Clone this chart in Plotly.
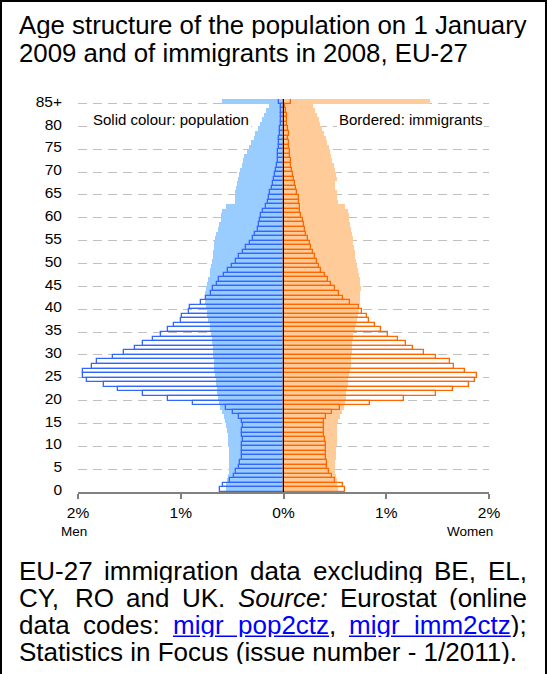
import plotly.graph_objects as go

# ---------------- data (percent of total, by single year of age; last = 85+) ----------------
ages = list(range(86))
tick_ages = list(range(0, 90, 5))
tick_labels = [str(a) for a in range(0, 85, 5)] + ["85+"]
x_tick_vals = [-2, -1, 0, 1, 2]
x_tick_text = ["2%", "1%", "0%", "1%", "2%"]

pop_men = [0.56, 0.555, 0.55, 0.545, 0.535, 0.53, 0.53, 0.53, 0.53, 0.535,
           0.54, 0.54, 0.545, 0.55, 0.56, 0.565, 0.58, 0.60, 0.615, 0.625,
           0.636, 0.643, 0.65, 0.656, 0.66, 0.665, 0.672, 0.675, 0.68, 0.688,
           0.69, 0.69, 0.695, 0.698, 0.708, 0.714, 0.72, 0.73, 0.74, 0.747,
           0.753, 0.763, 0.763, 0.763, 0.753, 0.74, 0.73, 0.72, 0.714, 0.708,
           0.70, 0.688, 0.682, 0.675, 0.672, 0.666, 0.656, 0.633, 0.623, 0.61,
           0.607, 0.60, 0.558, 0.47, 0.47, 0.47, 0.464, 0.455, 0.445, 0.438,
           0.422, 0.406, 0.39, 0.38, 0.357, 0.334, 0.315, 0.292, 0.276, 0.25,
           0.227, 0.211, 0.188, 0.169, 0.146, 0.60]

pop_women = [0.53, 0.525, 0.52, 0.51, 0.505, 0.50, 0.505, 0.51, 0.51, 0.515,
             0.518, 0.52, 0.52, 0.522, 0.524, 0.53, 0.547, 0.57, 0.586, 0.60,
             0.605, 0.612, 0.62, 0.628, 0.632, 0.638, 0.648, 0.655, 0.66, 0.66,
             0.662, 0.667, 0.67, 0.677, 0.68, 0.70, 0.706, 0.715, 0.726, 0.73,
             0.735, 0.742, 0.745, 0.748, 0.75, 0.745, 0.74, 0.73, 0.725, 0.72,
             0.71, 0.70, 0.695, 0.685, 0.68, 0.675, 0.665, 0.655, 0.645, 0.64,
             0.635, 0.625, 0.60, 0.53, 0.525, 0.52, 0.50, 0.505, 0.52, 0.515,
             0.50, 0.49, 0.475, 0.465, 0.455, 0.44, 0.425, 0.41, 0.395, 0.375,
             0.36, 0.345, 0.33, 0.31, 0.29, 1.43]

imm_men = [0.616, 0.584, 0.525, 0.486, 0.46, 0.438, 0.42, 0.405, 0.40, 0.40,
           0.40, 0.395, 0.40, 0.40, 0.39, 0.406, 0.429, 0.487, 0.558, 0.877,
           1.127, 1.368, 1.615, 1.748, 1.913, 1.955, 1.955, 1.864, 1.818, 1.656,
           1.55, 1.45, 1.37, 1.274, 1.195, 1.127, 1.068, 1.0, 0.987, 0.919,
           0.909, 0.805, 0.753, 0.708, 0.682, 0.643, 0.63, 0.575, 0.545, 0.503,
           0.461, 0.429, 0.39, 0.367, 0.325, 0.299, 0.276, 0.253, 0.24, 0.227,
           0.218, 0.201, 0.169, 0.153, 0.146, 0.13, 0.114, 0.104, 0.091, 0.081,
           0.071, 0.065, 0.058, 0.052, 0.049, 0.042, 0.042, 0.039, 0.036, 0.032,
           0.029, 0.029, 0.026, 0.023, 0.02, 0.04]

imm_women = [0.597, 0.58, 0.505, 0.47, 0.444, 0.42, 0.424, 0.41, 0.417, 0.41,
             0.41, 0.407, 0.395, 0.39, 0.39, 0.395, 0.41, 0.47, 0.547, 0.84,
             1.17, 1.482, 1.65, 1.807, 1.862, 1.885, 1.765, 1.657, 1.618, 1.482,
             1.368, 1.265, 1.196, 1.115, 1.018, 0.953, 0.894, 0.833, 0.813, 0.768,
             0.735, 0.651, 0.58, 0.54, 0.505, 0.466, 0.433, 0.40, 0.368, 0.35,
             0.33, 0.31, 0.29, 0.27, 0.255, 0.24, 0.222, 0.21, 0.2, 0.185,
             0.174, 0.165, 0.157, 0.15, 0.148, 0.135, 0.125, 0.115, 0.102, 0.092,
             0.083, 0.077, 0.07, 0.065, 0.06, 0.055, 0.05, 0.045, 0.05, 0.04,
             0.037, 0.03, 0.03, 0.024, 0.018, 0.07]

title_lines = ["Age structure of the population on 1 January",
               "2009 and of immigrants in 2008, EU-27"]

# ---------------- layout helpers ----------------
W, H = 547, 674
ML, MR, MT, MB = 78, 58, 99, 182
PW, PH = W - ML - MR, H - MT - MB
FONT = "Liberation Sans, Arial, sans-serif"


def px(x):
    return (x - ML) / PW


def py(y):
    return (H - MB - y) / PH


AW = {' ': 278, '!': 278, '(': 333, ')': 333, ',': 278, '-': 333, '.': 278, '/': 278,
      ':': 278, ';': 278, '_': 556, '+': 584, '%': 889,
      'A': 667, 'B': 667, 'C': 722, 'D': 722, 'E': 667, 'F': 611, 'G': 778, 'H': 722,
      'I': 278, 'J': 500, 'K': 667, 'L': 556, 'M': 833, 'N': 722, 'O': 778, 'P': 667,
      'Q': 778, 'R': 722, 'S': 667, 'T': 611, 'U': 722, 'V': 667, 'W': 944, 'X': 667,
      'Y': 667, 'Z': 611,
      'a': 556, 'b': 556, 'c': 500, 'd': 556, 'e': 556, 'f': 278, 'g': 556, 'h': 556,
      'i': 222, 'j': 222, 'k': 500, 'l': 222, 'm': 833, 'n': 556, 'o': 556, 'p': 556,
      'q': 556, 'r': 333, 's': 500, 't': 278, 'u': 556, 'v': 500, 'w': 722, 'x': 500,
      'y': 500, 'z': 500}


def tw(s, size):
    return sum(AW.get(c, 556) for c in s) / 1000.0 * size


fig = go.Figure()
fig.add_trace(go.Bar(y=ages, x=[-v for v in pop_men], orientation="h", width=1,
                     marker=dict(color="#99CCFF", line=dict(width=0)), name="Men population"))
fig.add_trace(go.Bar(y=ages, x=pop_women, orientation="h", width=1,
                     marker=dict(color="#FFCC99", line=dict(width=0)), name="Women population"))
fig.add_trace(go.Bar(y=ages, x=[-v for v in imm_men], orientation="h", width=1,
                     marker=dict(color="rgba(0,0,0,0)", line=dict(color="#3366FF", width=1.3)),
                     name="Men immigrants"))
fig.add_trace(go.Bar(y=ages, x=imm_women, orientation="h", width=1,
                     marker=dict(color="rgba(0,0,0,0)", line=dict(color="#FF6600", width=1.3)),
                     name="Women immigrants"))

annotations = []
TSIZE = 25.8
for i, line in enumerate(title_lines):
    annotations.append(dict(text=line, x=px(19), y=py(24.5 + 28.4 * i), xref="paper", yref="paper",
                            xanchor="left", yanchor="middle", showarrow=False, borderpad=0, borderwidth=0,
                            height=27, valign="middle",
                            font=dict(family=FONT, size=TSIZE, color="black")))

# footer, justified lines
FS = 26
LH = 26.9
LINK = '<span style="color:#0000FF"><u>{}</u></span>'
footer = [
    [("EU-27", "EU-27"), ("immigration", "immigration"), ("data", "data"), ("excluding", "excluding"),
     ("BE,", "BE,"), ("EL,", "EL,")],
    [("CY,", "CY,"), ("RO", "RO"), ("and", "and"), ("UK.", "UK."), ("Source:", "<i>Source:</i>"),
     ("Eurostat", "Eurostat"), ("(online", "(online")],
    [("data", "data"), ("codes:", "codes:"), ("migr_pop2ctz,", LINK.format("migr_pop2ctz") + ","),
     ("migr_imm2ctz);", LINK.format("migr_imm2ctz") + ");")],
]
left, right = 19, 527
for li, words in enumerate(footer):
    yc = py(570.3 + LH * li)
    widths = [tw(p, FS) for p, _ in words]
    gap = (right - left - sum(widths)) / (len(words) - 1)
    xpos = left
    for (plain, mk), w in zip(words, widths):
        annotations.append(dict(text=mk, x=px(xpos), y=yc, xref="paper", yref="paper",
                                xanchor="left", yanchor="middle", showarrow=False, borderpad=0,
                                borderwidth=0, height=25, valign="middle",
                                font=dict(family=FONT, size=FS, color="black")))
        xpos += w + gap
annotations.append(dict(text="Statistics in Focus (issue number - 1/2011).", x=px(19), y=py(570.3 + LH * 3),
                        xref="paper", yref="paper", xanchor="left", yanchor="middle", showarrow=False,
                        borderpad=0, borderwidth=0, height=25, valign="middle",
                        font=dict(family=FONT, size=FS, color="black")))

annotations.append(dict(text="Solid colour: population", x=px(170.5), y=py(119.1), xref="paper", yref="paper",
                        xanchor="center", yanchor="middle", showarrow=False, bgcolor="white", borderpad=2,
                        borderwidth=0, font=dict(family=FONT, size=15, color="black")))
annotations.append(dict(text="Bordered: immigrants", x=px(410.8), y=py(119.1), xref="paper", yref="paper",
                        xanchor="center", yanchor="middle", showarrow=False, bgcolor="white", borderpad=2,
                        borderwidth=0, font=dict(family=FONT, size=15, color="black")))
annotations.append(dict(text="Men", x=px(73.5), y=py(531.3), xref="paper", yref="paper",
                        xanchor="center", yanchor="middle", showarrow=False, borderpad=0, borderwidth=0,
                        font=dict(family=FONT, size=13.5, color="black")))
annotations.append(dict(text="Women", x=px(469.5), y=py(531.3), xref="paper", yref="paper",
                        xanchor="center", yanchor="middle", showarrow=False, borderpad=0, borderwidth=0,
                        font=dict(family=FONT, size=13.5, color="black")))

shapes = [
    dict(type="line", xref="x", yref="y", x0=0, x1=0, y0=-0.5, y1=85.5,
         line=dict(color="black", width=1), layer="above"),
    dict(type="line", xref="paper", yref="paper", x0=px(1), x1=px(1), y0=py(0), y1=py(H),
         line=dict(color="black", width=2), layer="above"),
    dict(type="line", xref="paper", yref="paper", x0=px(0), x1=px(W), y0=py(1), y1=py(1),
         line=dict(color="black", width=2), layer="above"),
    dict(type="line", xref="paper", yref="paper", x0=px(546), x1=px(546), y0=py(0), y1=py(H),
         line=dict(color="black", width=2), layer="above"),
]

fig.update_layout(
    width=W, height=H, autosize=False,
    margin=dict(l=ML, r=MR, t=MT, b=MB, pad=0),
    paper_bgcolor="white", plot_bgcolor="white",
    barmode="overlay", bargap=0, showlegend=False,
    font=dict(family=FONT, color="black"),
    annotations=annotations, shapes=shapes,
    xaxis=dict(range=[-2, 2], tickmode="array", tickvals=x_tick_vals, ticktext=x_tick_text,
               showgrid=False, zeroline=False, showline=True, linecolor="#808080", linewidth=2,
               ticks="outside", ticklen=5, tickwidth=1.5, tickcolor="#808080",
               tickfont=dict(family=FONT, size=15.5, color="black"), fixedrange=True),
    yaxis=dict(range=[-0.5, 85.5], tickmode="array", tickvals=tick_ages, ticktext=tick_labels,
               showgrid=False, zeroline=False, showline=False, ticks="", ticklabelstandoff=15,
               tickfont=dict(family=FONT, size=15.5, color="black"), fixedrange=True,
               minor=dict(tickmode="array", tickvals=[4.5 + 5 * k for k in range(17)], showgrid=True,
                          gridcolor="#C0C0C0", gridwidth=1, griddash="9px,6px", ticks="")),
)

fig.write_html("out.html", config={"displayModeBar": False},
               post_script="document.body.style.margin='0';document.body.style.overflow='hidden';")
